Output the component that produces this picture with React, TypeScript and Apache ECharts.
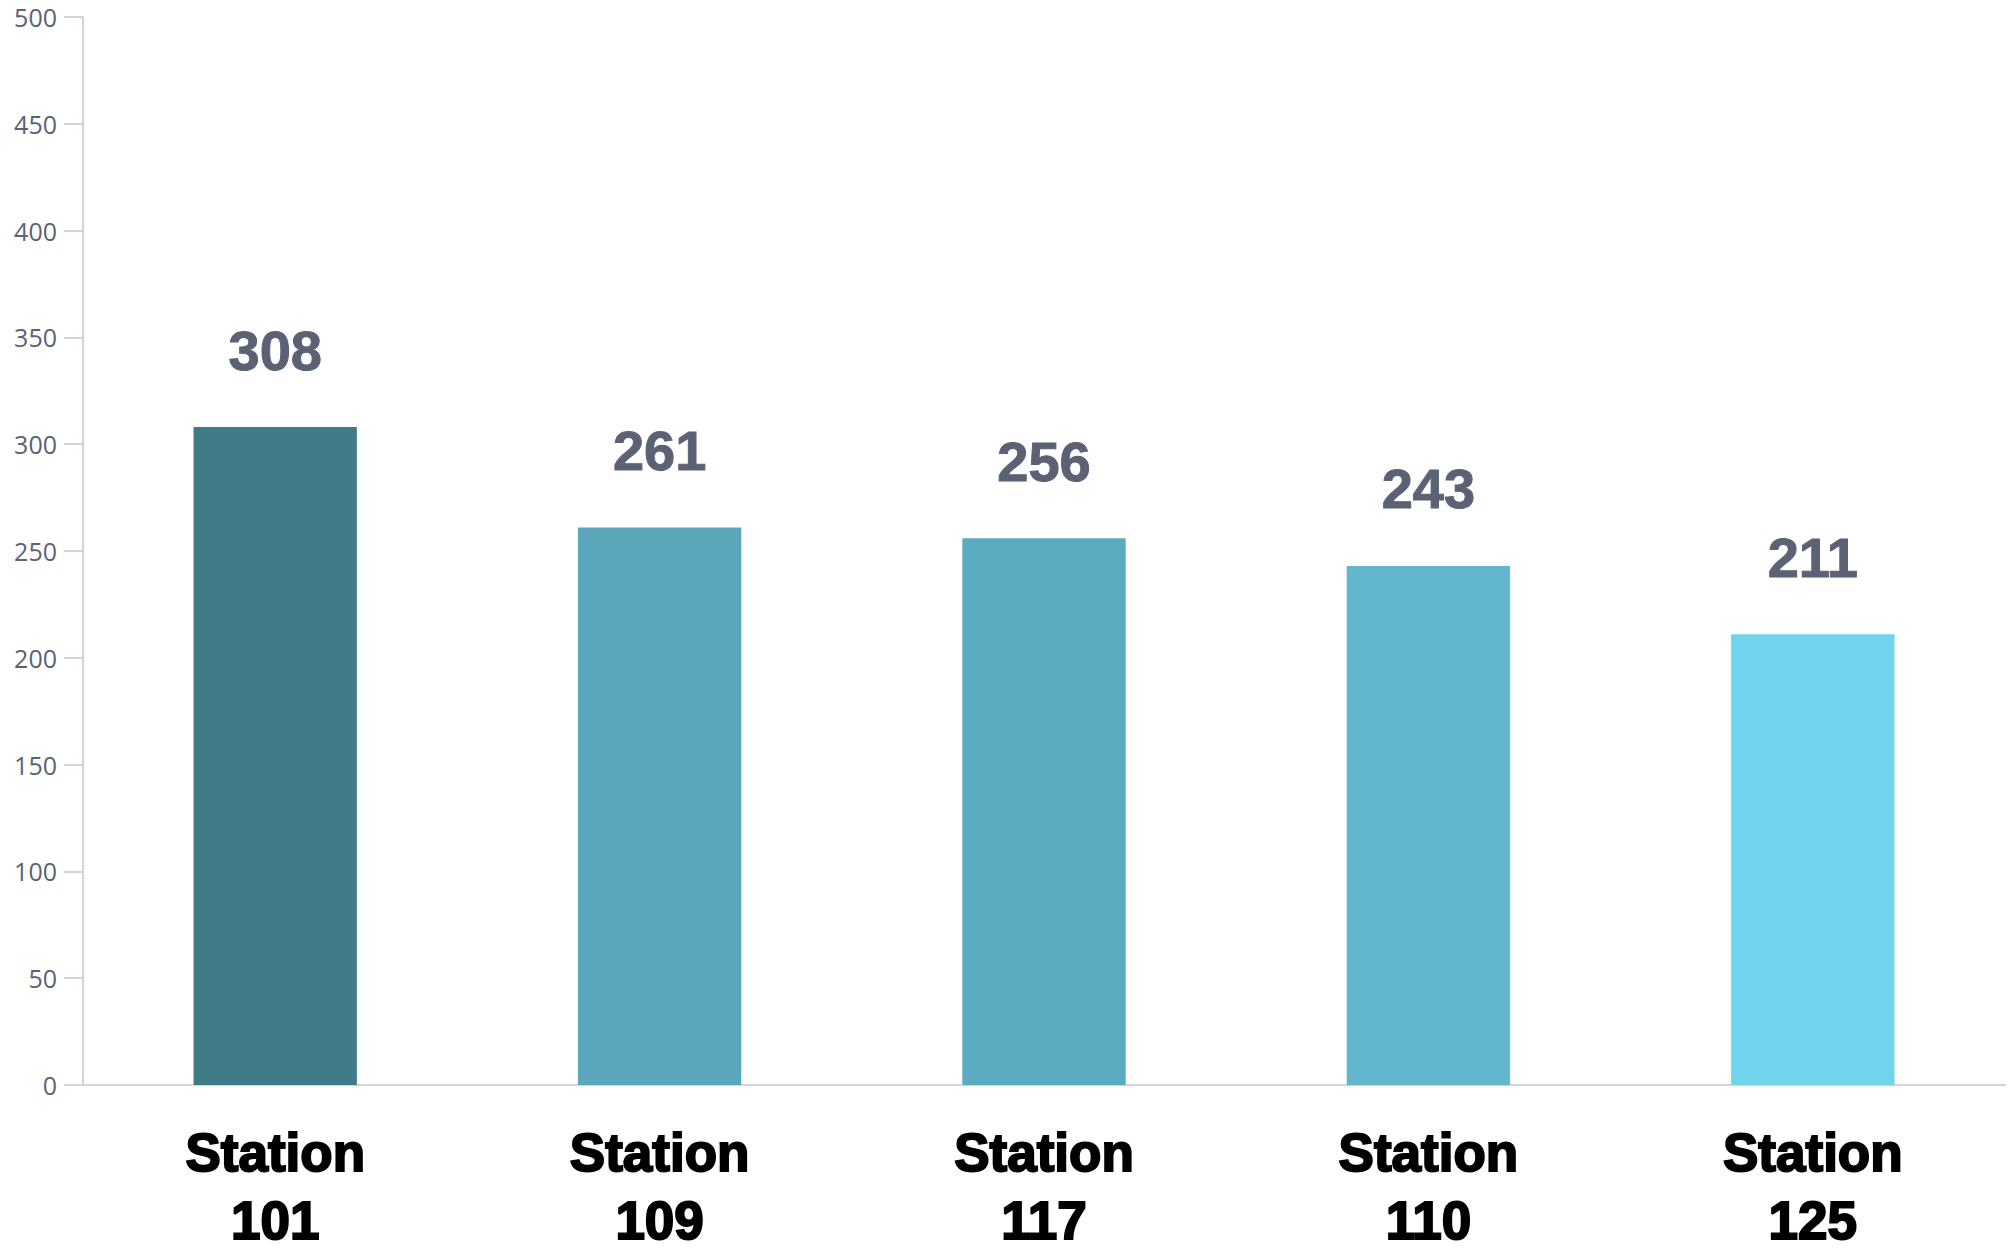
import React, { useEffect, useRef } from "react";
import * as echarts from "echarts";

const categories = ["Station\n101", "Station\n109", "Station\n117", "Station\n110", "Station\n125"];
const values = [308, 261, 256, 243, 211];
const barColors = ["#417b87", "#5aa7bb", "#5aaac0", "#62b7cc", "#6fd4ec"];

export default function App() {
  const ref = useRef<HTMLDivElement>(null);
  useEffect(() => {
    if (!ref.current) return;
    const chart = echarts.init(ref.current, null, { renderer: "svg" });
    chart.setOption({
      animation: false,
      backgroundColor: "#ffffff",
      grid: { left: 83, right: 8, top: 17, bottom: 156, containLabel: false },
      xAxis: {
        type: "category",
        data: categories,
        axisLine: { lineStyle: { color: "#d3d3db", width: 2 } },
        axisTick: { alignWithLabel: true, length: 9, lineStyle: { color: "#d3d3db", width: 2 } },
        axisLabel: {
          color: "#000000",
          fontFamily: "Liberation Sans",
          fontWeight: "bold",
          fontSize: 53,
          lineHeight: 68,
          margin: 33,
          textBorderColor: "#000000",
          textBorderWidth: 2,
        },
      },
      yAxis: {
        type: "value",
        min: 0,
        max: 500,
        interval: 50,
        splitLine: { show: false },
        axisLine: { show: true, lineStyle: { color: "#d3d3db", width: 2 } },
        axisTick: { show: true, length: 19, lineStyle: { color: "#d3d3db", width: 2 } },
        axisLabel: {
          color: "#5b6274",
          fontFamily: "Open Sans",
          fontSize: 25,
          margin: 26,
        },
      },
      series: [
        {
          type: "bar",
          data: values.map((v, i) => ({ value: v, itemStyle: { color: barColors[i] } })),
          barWidth: "42.5%",
          label: {
            show: true,
            position: "top",
            distance: 49,
            color: "#5b6274",
            fontFamily: "Liberation Sans",
            fontWeight: "bold",
            fontSize: 56,
            textBorderColor: "#5b6274",
            textBorderWidth: 1,
          },
        },
      ],
    });
    return () => chart.dispose();
  }, []);
  return <div ref={ref} style={{ width: 2013, height: 1254, position: "absolute", left: 0, top: 0 }} />;
}
